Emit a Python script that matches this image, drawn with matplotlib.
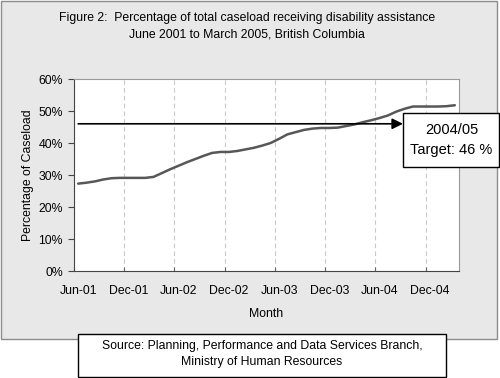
import matplotlib
matplotlib.use("Agg")
import matplotlib.pyplot as plt
from matplotlib.patches import Rectangle
import numpy as np

plt.rcParams['font.family'] = ['Liberation Sans', 'DejaVu Sans']

months = ['Jun-01', 'Jul-01', 'Aug-01', 'Sep-01', 'Oct-01', 'Nov-01',
          'Dec-01', 'Jan-02', 'Feb-02', 'Mar-02', 'Apr-02', 'May-02',
          'Jun-02', 'Jul-02', 'Aug-02', 'Sep-02', 'Oct-02', 'Nov-02',
          'Dec-02', 'Jan-03', 'Feb-03', 'Mar-03', 'Apr-03', 'May-03',
          'Jun-03', 'Jul-03', 'Aug-03', 'Sep-03', 'Oct-03', 'Nov-03',
          'Dec-03', 'Jan-04', 'Feb-04', 'Mar-04', 'Apr-04', 'May-04',
          'Jun-04', 'Jul-04', 'Aug-04', 'Sep-04', 'Oct-04', 'Nov-04',
          'Dec-04', 'Jan-05', 'Feb-05', 'Mar-05']
pct = [27.3, 27.6, 28.0, 28.6, 29.0, 29.1, 29.1, 29.1, 29.1, 29.4,
       30.6, 31.8, 32.9, 34.0, 35.0, 36.0, 36.9, 37.2, 37.2, 37.5,
       38.0, 38.5, 39.2, 40.0, 41.3, 42.7, 43.4, 44.1, 44.5, 44.7,
       44.7, 44.8, 45.3, 45.8, 46.5, 47.1, 47.8, 48.6, 49.8, 50.7,
       51.4, 51.4, 51.4, 51.4, 51.5, 51.8]
target = 46
arrow_end = 38.8
yticks = [0, 10, 20, 30, 40, 50, 60]

W, H = 500, 378
FS = 8.8
fig = plt.figure(figsize=(W / 100, H / 100), dpi=100, facecolor='white')

def px(x0, y0, x1, y1):
    return (x0 / W, 1 - y1 / H, (x1 - x0) / W, (y1 - y0) / H)

# grey panel
l, b, w, h = px(0.5, 0.5, 497, 339)
fig.patches.append(Rectangle((l, b), w, h, transform=fig.transFigure,
                             facecolor='#e8e8e8', edgecolor='#8c8c8c', lw=1, zorder=-1))

fig.text(247 / W, 1 - 17.5 / H,
         'Figure 2:  Percentage of total caseload receiving disability assistance',
         ha='center', va='center', fontsize=FS)
fig.text(247 / W, 1 - 34.5 / H, 'June 2001 to March 2005, British Columbia',
         ha='center', va='center', fontsize=FS)

ax = fig.add_axes(px(74, 79, 459, 271))
ax.set_zorder(1)
ax.set_facecolor('white')
x = np.arange(len(pct))
ax.plot(x, pct, color='#575757', lw=1.8, solid_capstyle='round', zorder=3)
ax.set_xlim(-0.5, len(pct) - 0.5)
ax.set_ylim(0, 60)
ax.set_yticks(yticks)
ax.set_yticklabels([f'{v}%' for v in yticks], fontsize=FS)

bounds = np.arange(-0.5, len(pct), 6)
ax.set_xticks(bounds)
ax.set_xticklabels([])
ax.set_xticks(np.arange(0, len(pct), 6), minor=True)
ax.set_xticklabels(months[::6], minor=True, fontsize=FS)
ax.tick_params(axis='x', which='minor', length=0, pad=10)
ax.tick_params(axis='x', which='major', length=3, width=0.8, color='#666666', direction='in')
ax.tick_params(axis='y', length=4, width=0.8, color='#444444', direction='out', pad=4)
for g in bounds[1:]:
    ax.axvline(g, color='#c8c8c8', lw=0.8, ls=(0, (4, 3)), zorder=1)
for s in ['top', 'right']:
    ax.spines[s].set_color('#999999')
for s in ['left', 'bottom']:
    ax.spines[s].set_color('#444444')
ax.set_xlabel('Month', fontsize=FS, labelpad=8)
ax.set_ylabel('Percentage of Caseload', fontsize=FS, labelpad=3)

ax.annotate('', xy=(arrow_end, target), xytext=(0, target),
            arrowprops=dict(arrowstyle='-|>', color='black', lw=1.2,
                            mutation_scale=16, shrinkA=0, shrinkB=0), zorder=4)

# target box
l, b, w, h = px(403, 112.7, 499, 167.3)
fig.patches.append(Rectangle((l, b), w, h, transform=fig.transFigure,
                             facecolor='white', edgecolor='black', lw=1, zorder=5))
fig.text(451.5 / W, 1 - 129.5 / H, '2004/05', ha='center', va='center', fontsize=10.5, zorder=6)
fig.text(451.5 / W, 1 - 149.5 / H, f'Target: {target} %', ha='center', va='center',
         fontsize=10.5, zorder=6)

# source box
l, b, w, h = px(78, 334, 445.5, 377)
fig.patches.append(Rectangle((l, b), w, h, transform=fig.transFigure,
                             facecolor='white', edgecolor='black', lw=1, zorder=5))
fig.text(262 / W, 1 - 346 / H, 'Source: Planning, Performance and Data Services Branch,',
         ha='center', va='center', fontsize=FS, zorder=6)
fig.text(262 / W, 1 - 362.5 / H, 'Ministry of Human Resources',
         ha='center', va='center', fontsize=FS, zorder=6)

fig.savefig('out.png', dpi=100)
